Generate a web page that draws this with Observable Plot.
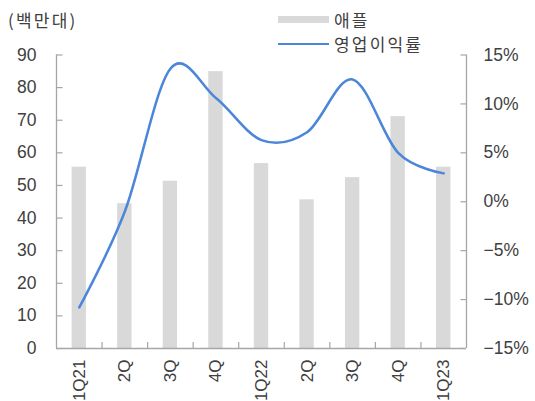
<!DOCTYPE html>
<html><head><meta charset="utf-8">
<script src="https://cdn.jsdelivr.net/npm/d3@7"></script>
<script src="https://cdn.jsdelivr.net/npm/@observablehq/plot@0.6"></script>
<style>
body{margin:0;background:#fff;}
#wrap{position:relative;width:535px;height:401px;overflow:hidden;color:#404040;}
#wrap svg{position:absolute;left:0;top:0;}
.lg{position:absolute;font-size:17px;letter-spacing:2.2px;line-height:1;font-family:"Noto Sans CJK KR",sans-serif;color:#404040;white-space:nowrap;}
.sw{position:absolute;}
</style></head><body><div id="wrap"></div>
<script>
const quarters = ["1Q21","2Q","3Q","4Q","1Q22","2Q","3Q","4Q","1Q23"];
const units = [55.6, 44.4, 51.3, 84.9, 56.7, 45.6, 52.4, 71.1, 55.6];
const margin = [-10.8, -1.0, 13.6, 10.6, 6.3, 7.1, 12.5, 5.0, 2.9];
const leftTicks = [0, 10, 20, 30, 40, 50, 60, 70, 80, 90];
const rightTicks = [-15, -10, -5, 0, 5, 10, 15];
const unitLabel = "(백만대)";
const seriesNames = ["애플", "영업이익률"];

const barColor = "#d9d9d9";
const lineColor = "#4a86d9";
const axisColor = "#a6a6a6";

// map right-axis percent onto the left-axis domain [0, 90]
const toLeft = p => (p + 15) * 3;
const fromLeft = v => Math.round(v / 3 - 15);
const pct = p => (p < 0 ? "\u2212" + Math.abs(p) : String(p)) + "%";

const idx = d3.range(quarters.length);
const barData = idx.map(i => ({i, v: units[i]}));
const lineData = idx.map(i => ({i, v: toLeft(margin[i])}));

const W = 535, H = 401, mL = 56, mR = 69, mT = 54.5, mB = 53;
const frameW = W - mL - mR, frameH = H - mT - mB;
const font = "'Liberation Sans', Arial, 'Noto Sans CJK KR', sans-serif";

const plot = Plot.plot({
  width: W, height: H,
  marginLeft: mL, marginRight: mR, marginTop: mT, marginBottom: mB,
  style: {fontFamily: font, fontSize: "17px", color: "#404040", background: "transparent", overflow: "visible"},
  x: {type: "linear", domain: [-0.5, quarters.length - 0.5], axis: null},
  y: {domain: [0, 90], axis: null},
  marks: [
    Plot.rectY(barData, {x1: d => d.i - 0.5, x2: d => d.i + 0.5, y: "v", fill: barColor, insetLeft: 15.6, insetRight: 15.6}),
    Plot.ruleY([0], {stroke: axisColor, strokeWidth: 1.3}),
    Plot.ruleX([-0.5, quarters.length - 0.5], {stroke: axisColor, strokeWidth: 1.3}),
    Plot.tickX(idx.slice(1).map(i => i - 0.5), {x: d => d, stroke: axisColor, strokeWidth: 1.2, insetTop: frameH - 6}),
    Plot.tickY(leftTicks, {y: d => d, stroke: axisColor, strokeWidth: 1.2, insetRight: frameW - 6.5}),
    Plot.tickY(rightTicks.map(toLeft), {y: d => d, stroke: axisColor, strokeWidth: 1.2, insetLeft: frameW - 5.5}),
    Plot.axisY(leftTicks, {anchor: "left", label: null, tickSize: 0, tickPadding: 20, fontSize: 17.5, fill: "#404040"}),
    Plot.axisY(rightTicks.map(toLeft), {anchor: "right", label: null, tickSize: 0, tickPadding: 17, fontSize: 17.5, fill: "#404040", tickFormat: v => pct(fromLeft(v))}),
    Plot.axisX(idx, {anchor: "bottom", label: null, tickSize: 0, tickPadding: 11, tickRotate: -90, fontSize: 17, fill: "#404040", tickFormat: i => quarters[i]}),
    Plot.line(lineData, {x: "i", y: "v", stroke: lineColor, strokeWidth: 2.5, curve: "cardinal", tension: 0})
  ]
});

const wrap = document.getElementById("wrap");
wrap.appendChild(plot);

function addText(txt, left, top) {
  const d = document.createElement("div");
  d.className = "lg";
  d.textContent = txt;
  d.style.left = left + "px";
  d.style.top = top + "px";
  wrap.appendChild(d);
}
function addSwatch(left, top, w, h, color) {
  const d = document.createElement("div");
  d.className = "sw";
  Object.assign(d.style, {left: left + "px", top: top + "px", width: w + "px", height: h + "px", background: color});
  wrap.appendChild(d);
}
addText(unitLabel, 8, 11);
addSwatch(278, 16, 51, 7, barColor);
addText(seriesNames[0], 334, 11);
addSwatch(278, 42.5, 51, 2.5, lineColor);
addText(seriesNames[1], 334, 35);
</script>
</body></html>
